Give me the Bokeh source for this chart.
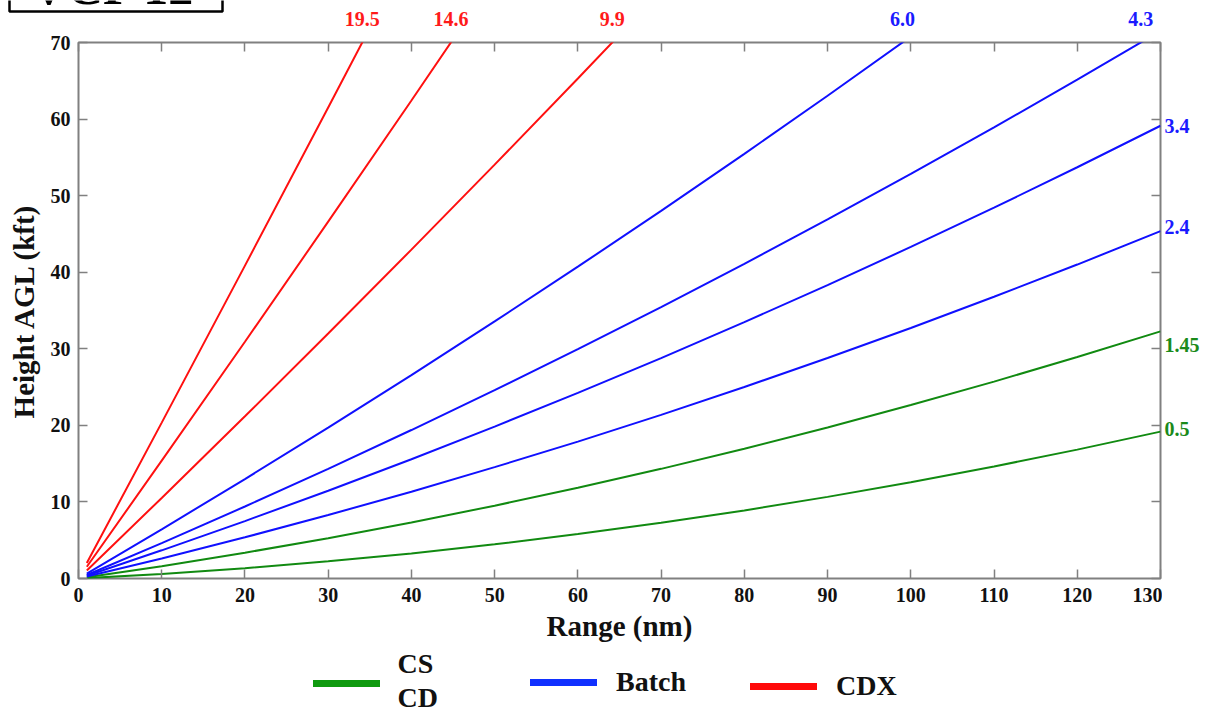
import numpy as np
from bokeh.plotting import figure
from bokeh.layouts import column, row
from bokeh.models import (LinearAxis, Label, Legend, LegendItem, FixedTicker, Range1d,
                          ColumnDataSource)
from bokeh.core.properties import value
from bokeh.embed import file_html
from bokeh.resources import INLINE

# ---------------- data ----------------
range_nm = [1, 10, 20, 30, 40, 50, 60, 70, 80, 90, 100, 110, 120, 130]

elev_labels = ["0.5", "1.45", "2.4", "3.4", "4.3", "6.0", "9.9", "14.6", "19.5"]
elev_group = ["CS/CD", "CS/CD", "Batch", "Batch", "Batch", "Batch", "CDX", "CDX", "CDX"]

h_0_5 = [0.05, 0.60, 1.35, 2.24, 3.28, 4.47, 5.80, 7.27, 8.89, 10.66, 12.57, 14.63, 16.83, 19.18]
h_1_45 = [0.15, 1.61, 3.37, 5.27, 7.31, 9.51, 11.84, 14.32, 16.95, 19.73, 22.65, 25.71, 28.92, 32.27]
h_2_4 = [0.26, 2.62, 5.38, 8.29, 11.34, 14.54, 17.88, 21.37, 25.01, 28.79, 32.71, 36.79, 41.00, 45.36]
h_3_4 = [0.36, 3.68, 7.50, 11.46, 15.58, 19.84, 24.24, 28.79, 33.48, 38.32, 43.30, 48.43, 53.71, 59.13]
h_4_3 = [0.46, 4.63, 9.40, 14.32, 19.39, 24.60, 29.95, 35.45, 41.10, 46.89, 52.83, 58.91, 65.14, 71.51]
h_6_0 = [0.64, 6.42, 12.99, 19.71, 26.57, 33.57, 40.72, 48.02, 55.46, 63.05, 70.78]
h_9_9 = [1.05, 10.52, 21.18, 31.99, 42.95, 54.05, 65.30, 76.69]
h_14_6 = [1.53, 15.39, 30.92, 46.60, 62.43, 78.40]
h_19_5 = [2.03, 20.36, 40.86, 61.50, 82.29]

heights = [h_0_5, h_1_45, h_2_4, h_3_4, h_4_3, h_6_0, h_9_9, h_14_6, h_19_5]

legend_groups = ["CS/CD", "Batch", "CDX"]
title_text = "VCP 12"

x_ticks = list(range(0, 131, 10))
y_ticks = list(range(0, 71, 10))

# ---------------- styling / layout constants ----------------
GROUP_COLOR = {"CS/CD": "#118a11", "Batch": "#1010ff", "CDX": "#ff1010"}
LEGEND_COLOR = {"CS/CD": "#0f9a0f", "Batch": "#1030ff", "CDX": "#ff0a0a"}
LABEL_COLOR = {"CS/CD": "#1a8a1a", "Batch": "#1a1aff", "CDX": "#ff1a1a"}
FONT = "Liberation Serif"
GREY = "#808080"
INK = "#111111"

X_MAX, Y_MAX = 130, 70
TOTAL_W = 1220
FRAME_W, FRAME_H = 1082, 536
M_LEFT, M_RIGHT, M_TOP, M_BOTTOM = 78, 2, 14, 69
M_W = M_LEFT + FRAME_W + M_RIGHT
M_H = M_TOP + FRAME_H + M_BOTTOM
TOP_H = 28
R_W = TOTAL_W - M_W
L_H = 65
SX = FRAME_W / X_MAX      # px per nm
SY = FRAME_H / Y_MAX      # px per kft

# right-side label nudges (screen px, + is down) for 0.5, 1.45, 2.4, 3.4
right_label_dy = {"0.5": -3, "1.45": 14, "2.4": -4, "3.4": 0}


def bare_fig(w, h, xr, yr):
    f = figure(width=w, height=h, x_range=xr, y_range=yr, min_border=0,
               x_axis_location=None, y_axis_location=None,
               output_backend="svg", toolbar_location=None,
               background_fill_color="white", border_fill_color="white")
    f.grid.visible = False
    f.outline_line_color = None
    return f


# ---------------- main plot ----------------
p = figure(width=M_W, height=M_H,
           min_border_left=M_LEFT, min_border_right=M_RIGHT,
           min_border_top=M_TOP, min_border_bottom=M_BOTTOM,
           x_range=Range1d(0, X_MAX), y_range=Range1d(0, Y_MAX),
           output_backend="svg", toolbar_location=None,
           background_fill_color="white", border_fill_color="white")
p.grid.visible = False
p.outline_line_color = GREY
p.outline_line_width = 2

for ax in (p.xaxis[0], p.yaxis[0]):
    ax.axis_line_color = None
    ax.major_tick_line_color = GREY
    ax.major_tick_line_width = 1.5
    ax.major_tick_in = 9
    ax.major_tick_out = 0
    ax.minor_tick_line_color = None
    ax.major_label_text_font = FONT
    ax.major_label_text_font_style = "bold"
    ax.major_label_text_font_size = "20px"
    ax.major_label_text_color = INK
    ax.axis_label_text_font = FONT
    ax.axis_label_text_font_style = "bold"
    ax.axis_label_text_font_size = "29px"
    ax.axis_label_text_color = INK

p.xaxis[0].ticker = FixedTicker(ticks=x_ticks)
p.yaxis[0].ticker = FixedTicker(ticks=y_ticks)
p.xaxis[0].axis_label = "Range (nm)"
p.yaxis[0].axis_label = "Height AGL (kft)"
p.xaxis[0].major_label_standoff = 9
p.yaxis[0].major_label_standoff = 8
p.xaxis[0].axis_label_standoff = 5
p.yaxis[0].axis_label_standoff = 8

for loc, ticks in (("above", x_ticks), ("right", y_ticks)):
    p.add_layout(LinearAxis(ticker=FixedTicker(ticks=ticks), major_label_text_font_size="0px",
                            axis_line_color=None, major_tick_line_color=GREY,
                            major_tick_line_width=1.5, major_tick_in=9, major_tick_out=0,
                            minor_tick_line_color=None, major_label_standoff=0), loc)

top_lab = dict(x=[], y=[], text=[], color=[])
right_lab = dict(x=[], y=[], text=[], color=[], dy=[])
for lab, grp, hs in zip(elev_labels, elev_group, heights):
    xs = range_nm[:len(hs)]
    p.line(xs, hs, line_color=GROUP_COLOR[grp], line_width=2)
    if hs[-1] >= Y_MAX:
        top_lab["x"].append(float(np.interp(Y_MAX, hs, xs)))
        top_lab["y"].append(Y_MAX + 24 / SY)
        top_lab["text"].append(lab)
        top_lab["color"].append(LABEL_COLOR[grp])
    else:
        right_lab["x"].append(xs[-1] + 4 / SX)
        right_lab["y"].append(hs[-1])
        right_lab["text"].append(lab)
        right_lab["color"].append(LABEL_COLOR[grp])
        right_lab["dy"].append(right_label_dy[lab])

# ---------------- top strip (labels of steep beams + title box) ----------------
top = bare_fig(TOTAL_W, TOP_H,
               Range1d(-M_LEFT / SX, (TOTAL_W - M_LEFT) / SX),
               Range1d(Y_MAX + M_TOP / SY, Y_MAX + (M_TOP + TOP_H) / SY))
top.text(x="x", y="y", text="text", text_color="color", source=ColumnDataSource(top_lab),
         text_font=value(FONT), text_font_style="bold", text_font_size="20px",
         text_align="center", text_baseline="middle")
# title box cut at the page top
box_l, box_r, box_b = (9 - M_LEFT) / SX, (222 - M_LEFT) / SX, Y_MAX + (M_TOP + TOP_H - 11) / SY
top.quad(left=[box_l], right=[box_r], bottom=[box_b], top=[Y_MAX + (M_TOP + TOP_H + 30) / SY],
         fill_color=None, line_color="black", line_width=2.5)
top.text(x=[(113 - M_LEFT) / SX], y=[Y_MAX + (M_TOP + TOP_H - 6) / SY], text=[title_text],
         y_offset=-20,
         text_font=value(FONT), text_font_style="bold", text_font_size="50px",
         text_align="center", text_baseline="alphabetic", text_color="black")

# ---------------- right strip (labels of low beams), frame aligned with the main frame ----------------
right = bare_fig(R_W, M_H,
                 Range1d(X_MAX + M_RIGHT / SX, X_MAX + (M_RIGHT + R_W) / SX),
                 Range1d(0, Y_MAX))
right.text(x="x", y="y", text="text", text_color="color", y_offset="dy",
           source=ColumnDataSource(right_lab),
           text_font=value(FONT), text_font_style="bold", text_font_size="20px",
           text_align="left", text_baseline="middle")

# ---------------- legend strip ----------------
leg = bare_fig(TOTAL_W, L_H, Range1d(0, TOTAL_W), Range1d(0, L_H))
legend_loc = {"CS/CD": (313, 13), "Batch": (530, 14), "CDX": (750, 10)}
legend_lbl = {"CS/CD": "\u00a0", "Batch": "Batch", "CDX": "CDX"}
for grp in legend_groups:
    # proxy renderer kept outside the visible range; only its legend swatch shows
    r = leg.line([-50, -40], [-50, -50], line_color=LEGEND_COLOR[grp], line_width=7,
                 line_cap="round")
    leg.add_layout(Legend(items=[LegendItem(label=legend_lbl[grp], renderers=[r])],
                          location=legend_loc[grp], orientation="horizontal",
                          glyph_width=67, glyph_height=32, label_standoff=19,
                          label_text_font=FONT, label_text_font_style="bold",
                          label_text_font_size="28px", label_text_color=INK,
                          border_line_color=None, background_fill_alpha=0,
                          padding=0, margin=0, spacing=0))
for txt, yy in (("CS", 49), ("CD", 15)):
    leg.add_layout(Label(x=397, y=yy, text=txt, text_align="left", text_baseline="middle",
                         text_font=FONT, text_font_style="bold", text_font_size="28px",
                         text_color=INK))

layout = column(top, row(p, right, spacing=0), leg, spacing=0)

open("out.html", "w").write(file_html(layout, INLINE))
